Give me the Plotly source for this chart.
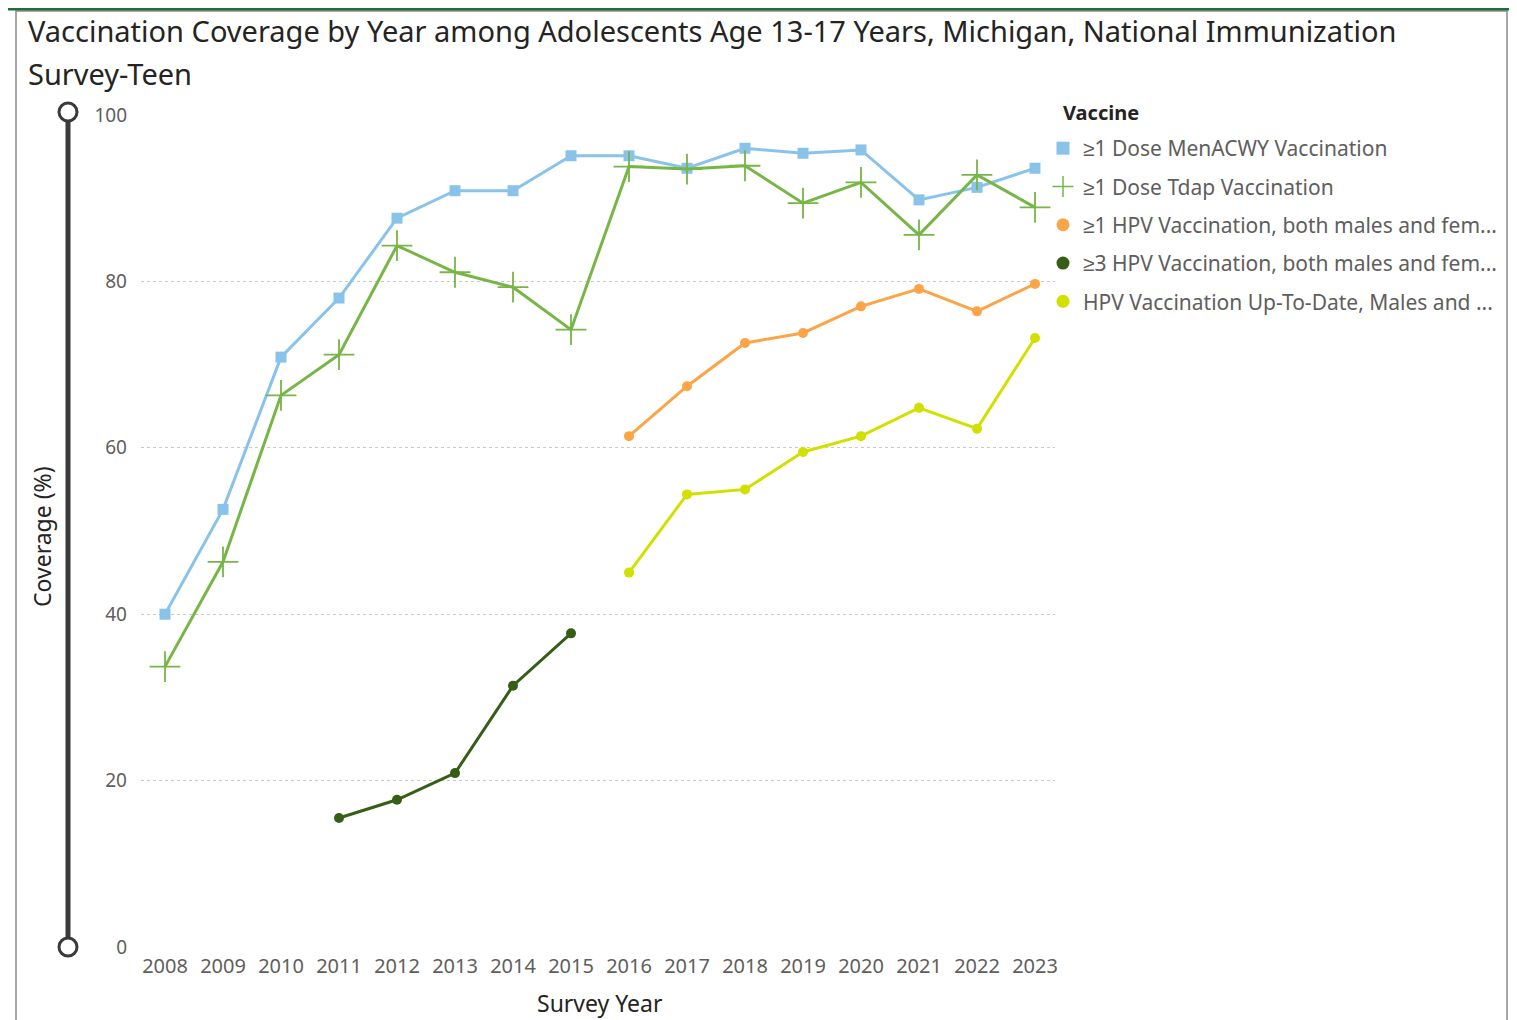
import plotly.graph_objects as go

# survey years on the x axis
years = list(range(2008, 2024))

# coverage (%) per vaccine
menacwy = [40.0, 52.6, 70.9, 78.0, 87.6, 90.9, 90.9, 95.1, 95.1, 93.6, 96.0, 95.4, 95.8, 89.8, 91.3, 93.6]
tdap = [33.7, 46.3, 66.3, 71.2, 84.3, 81.1, 79.3, 74.2, 93.8, 93.5, 93.9, 89.4, 91.9, 85.6, 92.8, 88.9]
hpv1_years = list(range(2016, 2024))
hpv1 = [61.4, 67.4, 72.6, 73.8, 77.0, 79.1, 76.4, 79.7]
hpv3_years = list(range(2011, 2016))
hpv3 = [15.5, 17.7, 20.9, 31.4, 37.7]
hpv_utd_years = list(range(2016, 2024))
hpv_utd = [45.0, 54.4, 55.0, 59.5, 61.4, 64.8, 62.3, 73.2]

series_names = [
    "≥1 Dose MenACWY Vaccination",
    "≥1 Dose Tdap Vaccination",
    "≥1 HPV Vaccination, both males and fem...",
    "≥3 HPV Vaccination, both males and fem...",
    "HPV Vaccination Up-To-Date, Males and ...",
]
y_ticks = [0, 20, 40, 60, 80, 100]

FONT = "Segoe UI, Noto Sans, sans-serif"
OFF = 8  # page body margin
W, H = 1517 - OFF, 1020 - OFF
# plot area in screen pixels
PL, PR, PT, PB = 141, 1055, 115, 947


def px_x(p):
    return (p - PL) / (PR - PL)


def px_y(p):
    return (PB - p) / (PB - PT)


series = [
    (years, menacwy, series_names[0], "#89C3EA", dict(symbol="square", size=11)),
    (years, tdap, series_names[1], "#77B646",
     dict(symbol="cross-thin", size=22, line=dict(width=1.8, color="#77B646"))),
    (hpv1_years, hpv1, series_names[2], "#FBA548", dict(symbol="circle", size=10)),
    (hpv3_years, hpv3, series_names[3], "#365E16", dict(symbol="circle", size=10)),
    (hpv_utd_years, hpv_utd, series_names[4], "#D2E000", dict(symbol="circle", size=10)),
]

fig = go.Figure()
for i, (xs, ys, name, color, marker) in enumerate(series):
    fig.add_trace(go.Scatter(
        x=xs, y=ys, mode="lines+markers", name=name,
        line=dict(color=color, width=3),
        marker=dict(color=color, **marker),
        showlegend=False,
    ))
    # legend entry shows the marker only, like the original
    if marker["symbol"] == "cross-thin":
        lm = dict(symbol="cross-thin", size=15, line=dict(width=1.5, color=color))
    else:
        lm = dict(marker, size=13)
    fig.add_trace(go.Scatter(
        x=[None], y=[None], mode="markers", name=name,
        marker=dict(color=color, **lm),
        legendgroup=f"g{i}",
    ))

shapes = [
    # card border
    dict(type="rect", xref="paper", yref="paper",
         x0=px_x(16), x1=px_x(1507), y0=px_y(1030), y1=px_y(11),
         line=dict(color="#8a8a8a", width=1.5)),
    # green strip at the very top
    dict(type="line", xref="paper", yref="paper",
         x0=px_x(OFF), x1=px_x(1530), y0=px_y(OFF + 1), y1=px_y(OFF + 1),
         line=dict(color="#1E6E3C", width=3)),
    # zoom slider bar
    dict(type="line", xref="paper", yref="paper",
         x0=px_x(68), x1=px_x(68), y0=px_y(121), y1=px_y(939),
         line=dict(color="#3a3a3a", width=5)),
]
for cy in (112, 947):
    shapes.append(dict(type="circle", xref="paper", yref="paper",
                       x0=px_x(59), x1=px_x(77), y0=px_y(cy + 9), y1=px_y(cy - 9),
                       fillcolor="white", line=dict(color="#3a3a3a", width=3)))

annotations = [
    dict(text="Vaccination Coverage by Year among Adolescents Age 13-17 Years, Michigan, National Immunization",
         xref="paper", yref="paper", x=px_x(26), y=px_y(31), xanchor="left", yanchor="middle",
         showarrow=False, font=dict(family=FONT, size=29, color="#252423")),
    dict(text="Survey-Teen",
         xref="paper", yref="paper", x=px_x(26), y=px_y(73), xanchor="left", yanchor="middle",
         showarrow=False, font=dict(family=FONT, size=29, color="#252423")),
    dict(text="Coverage (%)", textangle=-90,
         xref="paper", yref="paper", x=px_x(42), y=px_y(537), xanchor="center", yanchor="middle",
         showarrow=False, font=dict(family=FONT, size=23, color="#252423")),
    dict(text="Survey Year",
         xref="paper", yref="paper", x=px_x(600), y=px_y(1003), xanchor="center", yanchor="middle",
         showarrow=False, font=dict(family=FONT, size=23, color="#252423")),
    dict(text="<b>Vaccine</b>",
         xref="paper", yref="paper", x=px_x(1061), y=px_y(113), xanchor="left", yanchor="middle",
         showarrow=False, font=dict(family=FONT, size=20, color="#252423")),
]

fig.update_layout(
    width=W, height=H,
    margin=dict(l=PL - OFF, r=W - (PR - OFF), t=PT - OFF, b=H - (PB - OFF), pad=0),
    paper_bgcolor="white", plot_bgcolor="white",
    font=dict(family=FONT, color="#605E5C"),
    shapes=shapes,
    annotations=annotations,
    legend=dict(
        x=px_x(1043), y=px_y(128), xanchor="left", yanchor="top",
        font=dict(family=FONT, size=21, color="#605E5C"),
        tracegroupgap=8, itemwidth=30, bgcolor="rgba(0,0,0,0)",
    ),
    xaxis=dict(
        range=[2008 - 24 / 58, 2023 + 20 / 58],
        tickmode="array", tickvals=years, ticktext=[str(y) for y in years],
        showgrid=False, zeroline=False, showline=False,
        tickfont=dict(family=FONT, size=20, color="#605E5C"), ticklen=0,
        ticklabelstandoff=5,
    ),
    yaxis=dict(
        range=[0, 100], tickmode="array", tickvals=y_ticks,
        showgrid=True, gridcolor="#C8C8C8", griddash="dot", gridwidth=1,
        zeroline=False, showline=False,
        tickfont=dict(family=FONT, size=19, color="#605E5C"),
        ticklabelstandoff=13,
    ),
)

fig.write_html("out.html")
